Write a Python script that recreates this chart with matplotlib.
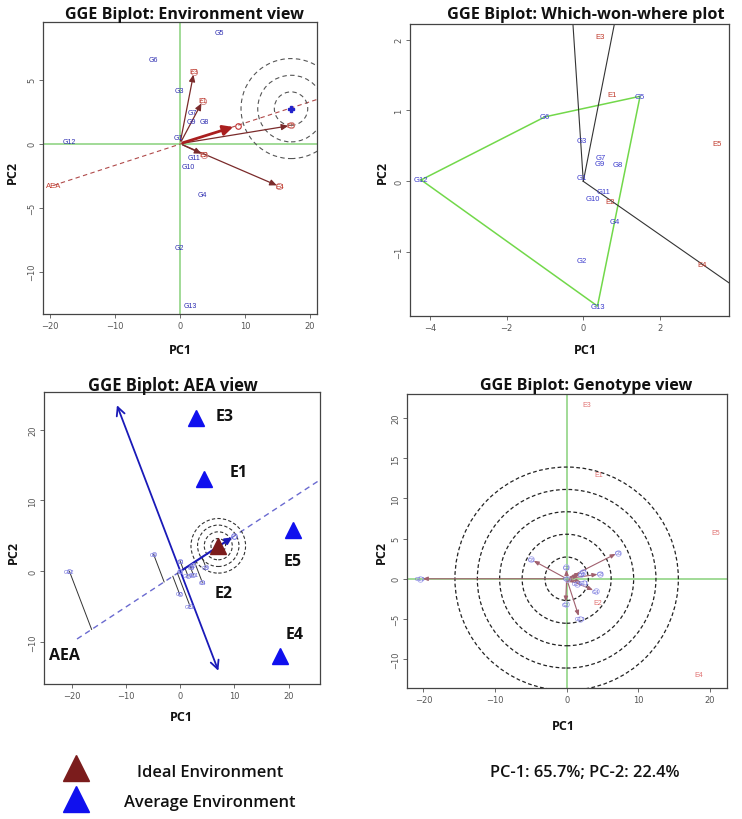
import numpy as np
import matplotlib
matplotlib.use("Agg")
import matplotlib.pyplot as plt
import matplotlib.transforms as mtransforms
from matplotlib.patches import Circle

# ---------------- DATA ----------------
gen_names = ["G1", "G2", "G3", "G4", "G5", "G6", "G7", "G8", "G9", "G10", "G11", "G12", "G13"]
env_names = ["E1", "E2", "E3", "E4", "E5"]

# Panel 1: Environment view
gen1_x = [-0.25, -0.15, -0.15, 3.4, 6.0, -4.1, 1.9, 3.8, 1.75, 1.2, 2.1, -17.1, 1.6]
gen1_y = [0.45, -8.1, 4.13, -4.0, 8.7, 6.55, 2.45, 1.76, 1.76, -1.76, -1.05, 0.16, -12.66]
env1_x = [3.5, 3.7, 2.15, 15.3, 17.1]
env1_y = [3.34, -0.87, 5.6, -3.34, 1.42]
avg1 = [8.6, 1.37]
ideal1 = [17.1, 2.74]
aea1_x = [-19.5, 22.0]
aea1_y = [-3.26, 3.6]

# Panel 2: Which-won-where
gen2_x = [-0.05, -0.03, -0.03, 0.83, 1.48, -1.0, 0.45, 0.91, 0.43, 0.26, 0.53, -4.23, 0.37]
gen2_y = [0.05, -1.12, 0.57, -0.56, 1.2, 0.91, 0.33, 0.24, 0.25, -0.24, -0.15, 0.02, -1.76]
env2_x = [0.74, 0.71, 0.43, 3.1, 3.48]
env2_y = [1.23, -0.29, 2.05, -1.17, 0.54]
hull_names = ["G12", "G6", "G5", "G13"]
ray_x = [-0.28, 0.84, 3.9]
ray_y = [2.3, 2.3, -1.47]

# Panels 3 & 4: AEA view and Genotype view
gen3_x = [0.0, -0.15, -0.05, 4.05, 7.2, -4.95, 2.3, 4.7, 2.05, 1.4, 2.4, -20.5, 1.8]
gen3_y = [0.0, -3.2, 1.45, -1.55, 3.25, 2.4, 0.85, 0.6, 0.55, -0.65, -0.5, 0.0, -4.95]
env3_x = [4.45, 4.3, 2.8, 18.4, 20.8]
env3_y = [13.0, -3.0, 21.7, -11.9, 5.8]
avg3 = [10.0, 5.0]
ideal3 = [7.0, 3.6]
aea3_x = [-19.1, 25.5]
aea3_y = [-9.55, 12.75]
ord3_x = [-11.9, 7.2]
ord3_y = [23.8, -14.4]

pc_text = "PC-1: 65.7%; PC-2: 22.4%"

# ---------------- STYLE ----------------
W, H = 742, 820
fig = plt.figure(figsize=(W / 100, H / 100), dpi=100)
fig.patch.set_facecolor("white")

GREEN = "#9ad88f"
GBLUE = "#2b2bb0"
ERED = "#c0392b"
MAROON = "#7a2a2a"
TICKC = "#555555"


def px_axes(l, t, r, b):
    return fig.add_axes([l / W, 1 - b / H, (r - l) / W, (b - t) / H])


def style_axes(ax, xlim, ylim, xticks, yticks):
    ax.set_xlim(*xlim)
    ax.set_ylim(*ylim)
    ax.set_xticks(xticks)
    ax.set_yticks(yticks)
    ax.tick_params(axis="both", labelsize=6, colors=TICKC, length=3, width=0.6, pad=2)
    for lab in ax.get_yticklabels():
        lab.set_rotation(90)
        lab.set_va("center")
    for s in ax.spines.values():
        s.set_color("#444444")
        s.set_linewidth(0.9)


def ptext(x, y, s, **kw):
    return fig.text(x / W, 1 - y / H, s, ha="center", va="center", **kw)


def px_circles(ax, cx, cy, radii_px, **kw):
    for r in radii_px:
        tr = fig.dpi_scale_trans + mtransforms.ScaledTranslation(cx, cy, ax.transData)
        c = Circle((0, 0), r / 100.0, transform=tr, fill=False, **kw)
        ax.add_patch(c)


renderer = fig.canvas.get_renderer()


def fit_text(x, y, s, width_px, size0=12, **kw):
    t = ptext(x, y, s, fontsize=size0, **kw)
    w = t.get_window_extent(renderer=renderer).width
    t.set_fontsize(size0 * width_px / w)
    return t


title_kw = dict(family=["Open Sans", "DejaVu Sans"], fontweight="bold", color="#111111")
lab_kw = dict(family=["Open Sans", "DejaVu Sans"], fontweight="bold", fontsize=9, color="#111111")

# ---------------- PANEL 1 ----------------
ax1 = px_axes(43, 23, 317, 315)
style_axes(ax1, (-21.1, 21.1), (-13.3, 9.5), [-20, -10, 0, 10, 20], [-10, -5, 0, 5])
ax1.axhline(0, color=GREEN, lw=1.3, zorder=1)
ax1.axvline(0, color=GREEN, lw=1.3, zorder=1)
ax1.plot(aea1_x, aea1_y, ls=(0, (4, 3)), color="#b04a4a", lw=0.8, zorder=2)
px_circles(ax1, ideal1[0], ideal1[1], [16.7, 33.3, 50.0], ls=(0, (4, 3)), ec="#555555", lw=0.8, zorder=2)
ax1.plot(ideal1[0], ideal1[1], marker="P", color="#2222cc", ms=4, zorder=4)
for n, x, y in zip(env_names, env1_x, env1_y):
    ax1.annotate("", xy=(x, y), xytext=(0, 0),
                 arrowprops=dict(arrowstyle="-|>,head_length=0.4,head_width=0.18", color=MAROON, lw=0.9), zorder=3)
    ax1.plot(x, y, marker="o", ms=4.5, mfc="none", mec="#d08080", mew=0.6, zorder=4)
    ax1.text(x, y, n, fontsize=5, color=ERED, ha="center", va="center", family="Liberation Sans", zorder=5)
ax1.annotate("", xy=(avg1[0], avg1[1]), xytext=(0, 0),
             arrowprops=dict(arrowstyle="-|>,head_length=0.6,head_width=0.3", color="#aa1f1f", lw=2.0), zorder=4)
ax1.plot(avg1[0] + 0.4, avg1[1], marker="o", ms=4, mfc="none", mec="#c03030", mew=0.8, zorder=5)
for n, x, y in zip(gen_names, gen1_x, gen1_y):
    ax1.text(x, y, n, fontsize=5, color=GBLUE, ha="center", va="center", family="Liberation Sans", zorder=5)
ax1.text(aea1_x[0], aea1_y[0], "AEA", fontsize=5.5, color=ERED, ha="center", va="center",
         family="Liberation Sans", zorder=5)

# ---------------- PANEL 2 ----------------
ax2 = px_axes(410, 25, 729, 317)
style_axes(ax2, (-4.52, 3.8), (-1.9, 2.22), [-4, -2, 0, 2], [-1, 0, 1, 2])
gi = {n: i for i, n in enumerate(gen_names)}
hx = [gen2_x[gi[n]] for n in hull_names] + [gen2_x[gi[hull_names[0]]]]
hy = [gen2_y[gi[n]] for n in hull_names] + [gen2_y[gi[hull_names[0]]]]
ax2.plot(hx, hy, color="#72d84a", lw=1.1, zorder=2)
for rx, ry in zip(ray_x, ray_y):
    ax2.plot([0, rx], [0, ry], color="#333333", lw=0.8, zorder=2)
for n, x, y in zip(gen_names, gen2_x, gen2_y):
    ax2.text(x, y, n, fontsize=5.5, color="#3a3acc", ha="center", va="center", family="Liberation Sans", zorder=5)
for n, x, y in zip(env_names, env2_x, env2_y):
    ax2.text(x, y, n, fontsize=5.5, color=ERED, ha="center", va="center", family="Liberation Sans", zorder=5)

# ---------------- PANEL 3 ----------------
ax3 = px_axes(44, 393, 320, 685)
style_axes(ax3, (-25.2, 25.8), (-15.9, 25.3), [-20, -10, 0, 10, 20], [-10, 0, 10, 20])
ax3.plot(aea3_x, aea3_y, ls=(0, (4, 3)), color="#6a6ad0", lw=1.0, zorder=2)
ax3.annotate("", xy=(ord3_x[0], ord3_y[0]), xytext=(ord3_x[1], ord3_y[1]),
             arrowprops=dict(arrowstyle="<->,head_length=0.6,head_width=0.3", color="#1a1ab8", lw=1.3), zorder=3)
d = np.array(avg3) / np.linalg.norm(avg3)
for x, y in zip(gen3_x, gen3_y):
    p = np.dot([x, y], d) * d
    ax3.plot([x, p[0]], [y, p[1]], color="#333333", lw=0.7, zorder=2)
ax3.annotate("", xy=(avg3[0], avg3[1]), xytext=(0, 0),
             arrowprops=dict(arrowstyle="-|>,head_length=0.4,head_width=0.2", color="#1a1ab8", lw=1.5), zorder=4)
ax3.plot(avg3[0], avg3[1], marker="o", ms=4, mfc="none", mec="#7070e0", mew=0.7, zorder=5)
px_circles(ax3, ideal3[0], ideal3[1], [7.3, 14.0, 20.7, 27.3], ls=(0, (3, 2)), ec="#333333", lw=0.8, zorder=3)
for n, x, y in zip(gen_names, gen3_x, gen3_y):
    ax3.plot(x, y, marker="o", ms=3, mfc="none", mec="#9a9ae8", mew=0.6, zorder=4)
    ax3.text(x, y, n, fontsize=4, color="#6a6ad8", ha="center", va="center", family="Liberation Sans", zorder=5)
ax3.plot(ideal3[0], ideal3[1], marker="^", ms=12, color="#7b1c1c", zorder=6)
tri_envs = ["E1", "E3", "E4", "E5"]
e_off = {"E1": (34, 7), "E2": (20, 0), "E3": (29, 2), "E4": (15, 22), "E5": (0, -31)}
for n, x, y in zip(env_names, env3_x, env3_y):
    if n in tri_envs:
        ax3.plot(x, y, marker="^", ms=11, color="#1010ee", zorder=6)
    ox, oy = e_off[n]
    ax3.annotate(n, (x, y), xytext=(ox * 0.72, oy * 0.72), textcoords="offset points",
                 fontsize=11.5, fontweight="bold", ha="center", va="center",
                 family=["Open Sans", "DejaVu Sans"], color="#111111", zorder=7)
ax3.text(aea3_x[0] - 2.3, aea3_y[0] - 2.2, "AEA", fontsize=11.5, fontweight="bold", ha="center", va="center",
         family=["Open Sans", "DejaVu Sans"], color="#111111", zorder=7)

# ---------------- PANEL 4 ----------------
ax4 = px_axes(407, 395, 727, 689)
style_axes(ax4, (-22.3, 22.4), (-13.6, 23.0), [-20, -10, 0, 10, 20], [-10, -5, 0, 5, 10, 15, 20])
ax4.axhline(0, color=GREEN, lw=1.3, zorder=1)
ax4.axvline(0, color=GREEN, lw=1.3, zorder=1)
px_circles(ax4, 0.0, 0.0, [21.7, 44.5, 67.0, 89.3, 111.7], ls=(0, (3, 2)), ec="#222222", lw=0.9, zorder=2)
for n, x, y in zip(gen_names, gen3_x, gen3_y):
    if n != "G1":
        ax4.annotate("", xy=(x, y), xytext=(0, 0),
                     arrowprops=dict(arrowstyle="-|>,head_length=0.3,head_width=0.12", color="#a0606e", lw=0.8),
                     zorder=3)
    ax4.plot(x, y, marker="o", ms=4, mfc="none", mec="#a8a8ee", mew=0.6, zorder=4)
    ax4.text(x, y, n, fontsize=4, color="#6a6ad8", ha="center", va="center", family="Liberation Sans", zorder=5)
for n, x, y in zip(env_names, env3_x, env3_y):
    ax4.text(x, y, n, fontsize=5, color="#e07070", ha="center", va="center", family="Liberation Sans", zorder=5)

# ---------------- TITLES / LABELS ----------------
fit_text(184.5, 15, "GGE Biplot: Environment view", 239, **title_kw)
fit_text(586, 15, "GGE Biplot: Which-won-where plot", 277, **title_kw)
fit_text(173, 386, "GGE Biplot: AEA view", 170, **title_kw)
fit_text(586, 386, "GGE Biplot: Genotype view", 212, **title_kw)

ptext(180, 351, "PC1", **lab_kw)
ptext(585, 351, "PC1", **lab_kw)
ptext(181, 718, "PC1", **lab_kw)
ptext(563, 727, "PC1", **lab_kw)
ptext(12, 173, "PC2", rotation=90, **lab_kw)
ptext(382, 173, "PC2", rotation=90, **lab_kw)
ptext(13, 553, "PC2", rotation=90, **lab_kw)
ptext(381, 553, "PC2", rotation=90, **lab_kw)

# ---------------- LEGEND ----------------
leg = fig.add_axes([0, 0, 1, 1], facecolor="none")
leg.set_xlim(0, W)
leg.set_ylim(H, 0)
leg.axis("off")
leg.plot([76], [769], marker="^", ms=19, color="#7b1c1c")
leg.plot([76], [800], marker="^", ms=19, color="#1010ee")
leg_kw = dict(family=["Open Sans", "DejaVu Sans"], fontweight="semibold", color="#111111")
fit_text(210, 773, "Ideal Environment", 146, **leg_kw)
fit_text(210, 803, "Average Environment", 172, **leg_kw)
fit_text(585, 773, pc_text, 189, **leg_kw)

fig.savefig("out.png", dpi=100)
